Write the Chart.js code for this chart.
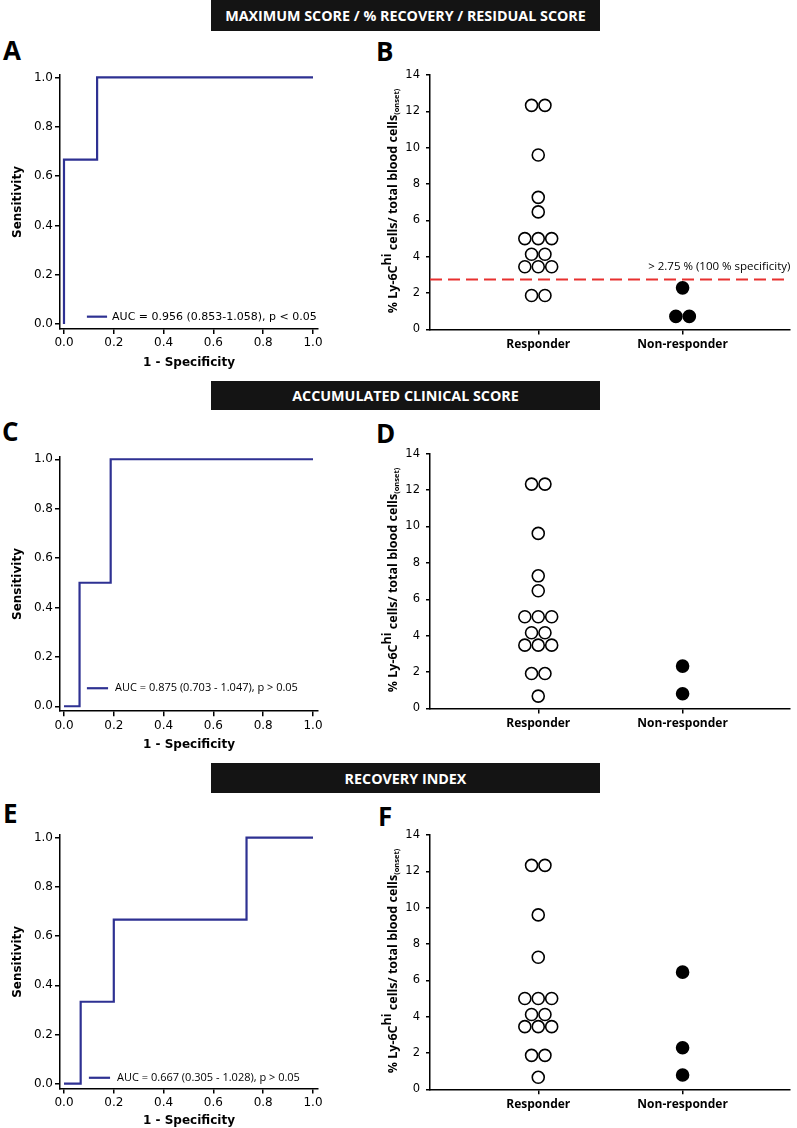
<!DOCTYPE html>
<html>
<head>
<meta charset="utf-8">
<script src="https://cdn.jsdelivr.net/npm/chart.js@4.4.1/dist/chart.umd.min.js"></script>
<style>
  body { margin: 0; background: #fff; }
  #page { position: relative; width: 797px; height: 1128px; overflow: hidden; background: #fff; }
  .bar { position: absolute; left: 211px; width: 389px; background: #141414; color: #fff;
         font: bold 14.3px "Open Sans"; display: flex; align-items: center; justify-content: center; }
  .letter { position: absolute; font: bold 26px/26px "Open Sans"; color: #000; }
  canvas { position: absolute; }
  .ytitle { position: absolute; white-space: nowrap; font: bold 12.5px "Open Sans"; color: #000;
            transform: translate(-50%, -50%) rotate(-90deg); }
  .ytitle sup { font-size: 1em; vertical-align: 0.45em; line-height: 0; }
  .ytitle sub { font-size: 0.6em; vertical-align: -0.3em; line-height: 0; }
</style>
</head>
<body>
<div id="page">
  <div class="bar" style="top:0;height:31px">MAXIMUM SCORE / % RECOVERY / RESIDUAL SCORE</div>
  <div class="bar" style="top:381px;height:29px">ACCUMULATED CLINICAL SCORE</div>
  <div class="bar" style="top:763px;height:30px">RECOVERY INDEX</div>

  <div class="letter" style="left:3px;top:37px">A</div>
  <div class="letter" style="left:376px;top:38px">B</div>
  <div class="letter" style="left:2px;top:418px">C</div>
  <div class="letter" style="left:376px;top:420px">D</div>
  <div class="letter" style="left:3px;top:800px">E</div>
  <div class="letter" style="left:378px;top:803px">F</div>

  <canvas id="chartA" width="330" height="360"></canvas>
  <canvas id="chartB" width="467" height="360"></canvas>
  <canvas id="chartC" width="330" height="360"></canvas>
  <canvas id="chartD" width="467" height="360"></canvas>
  <canvas id="chartE" width="330" height="360"></canvas>
  <canvas id="chartF" width="467" height="360"></canvas>
</div>
<script>
// ROC curves (1 - specificity, sensitivity)
const rocTicks = [0, 0.2, 0.4, 0.6, 0.8, 1.0];
const rocA_fpr = [0, 0, 0.133, 0.133, 1];
const rocA_tpr = [0, 0.667, 0.667, 1, 1];
const rocC_fpr = [0, 0.0625, 0.0625, 0.1875, 0.1875, 1];
const rocC_tpr = [0, 0, 0.5, 0.5, 1, 1];
const rocE_fpr = [0, 0.067, 0.067, 0.2, 0.2, 0.733, 0.733, 1];
const rocE_tpr = [0, 0, 0.333, 0.333, 0.667, 0.667, 1, 1];
const aucA = "AUC = 0.956 (0.853-1.058), p < 0.05";
const aucC = "AUC = 0.875 (0.703 - 1.047), p > 0.05";
const aucE = "AUC = 0.667 (0.305 - 1.028), p > 0.05";

// % Ly-6C hi cells at onset
const groups = ["Responder", "Non-responder"];
const scatterTicks = [0, 2, 4, 6, 8, 10, 12, 14];
const respB = [12.33, 12.33, 9.6, 7.27, 6.47, 5.0, 5.0, 5.0, 4.14, 4.14, 3.45, 3.45, 3.45, 1.87, 1.87];
const nonB = [2.29, 0.72, 0.72];
const respD = [12.33, 12.33, 9.62, 7.29, 6.47, 5.04, 5.04, 5.04, 4.16, 4.16, 3.48, 3.48, 3.48, 1.92, 1.92, 0.68];
const nonD = [2.33, 0.81];
const respF = [12.33, 12.33, 9.6, 7.27, 5.0, 5.0, 5.0, 4.12, 4.12, 3.45, 3.45, 3.45, 1.87, 1.87, 0.66];
const nonF = [6.45, 2.29, 0.79];
const cutoffB = 2.75;
const cutoffText = "> 2.75 % (100 % specificity)";

const rocColor = "#2e3192";
const H = 360;

Chart.defaults.font.family = "DejaVu Sans";
Chart.defaults.color = "#000";

const aucLabel = {
    id: "aucLabel",
    afterDatasetsDraw(chart, args, o) {
        if (!o || !o.text) return;
        const { ctx, scales: { x, y } } = chart;
        const py = y.getPixelForValue(o.y);
        const x1 = x.getPixelForValue(o.from);
        const x2 = x.getPixelForValue(o.to);
        ctx.save();
        ctx.strokeStyle = rocColor;
        ctx.lineWidth = 2.2;
        ctx.beginPath();
        ctx.moveTo(x1, py);
        ctx.lineTo(x2, py);
        ctx.stroke();
        ctx.font = o.fontSpec;
        ctx.letterSpacing = o.spacing;
        ctx.fillStyle = "#000";
        ctx.textBaseline = "middle";
        ctx.fillText(o.text, x2 + o.gap, py);
        ctx.restore();
    },
};

const cutoffLabel = {
    id: "cutoffLabel",
    afterDatasetsDraw(chart, args, o) {
        if (!o || !o.text) return;
        const { ctx, chartArea, scales: { y } } = chart;
        ctx.save();
        ctx.font = "11.5px 'Open Sans'";
        ctx.fillStyle = "#000";
        ctx.textAlign = "right";
        ctx.textBaseline = "middle";
        ctx.fillText(o.text, chartArea.right + 1, y.getPixelForValue(o.value) - 12.7);
        ctx.restore();
    },
};

function axisLines() {
    return {
        grid: { drawOnChartArea: false, tickLength: 5, color: "#000", lineWidth: 1.5 },
        border: { color: "#000", width: 1.5 },
    };
}

function rocChart(id, top, areaTop, areaBottom, xAxisH, fpr, tpr, label) {
    const canvas = document.getElementById(id);
    canvas.style.left = "0px";
    canvas.style.top = top + "px";
    new Chart(canvas, {
        type: "line",
        data: {
            datasets: [{
                data: fpr.map((x, i) => ({ x, y: tpr[i] })),
                borderColor: rocColor,
                borderWidth: 2.2,
                pointRadius: 0,
                tension: 0,
                fill: false,
            }],
        },
        options: {
            responsive: false,
            animation: false,
            devicePixelRatio: 1,
            layout: { padding: { top: areaTop - top, right: 12, bottom: H - (areaBottom - top) - xAxisH, left: 0 } },
            plugins: { legend: { display: false }, tooltip: { enabled: false }, aucLabel: label },
            scales: {
                x: {
                    type: "linear", min: -0.016, max: 1.02,
                    afterFit: (s) => { s.height = xAxisH; },
                    afterBuildTicks: (s) => { s.ticks = rocTicks.map((v) => ({ value: v })); },
                    ...axisLines(),
                    ticks: { font: { size: 12 }, padding: 2, maxRotation: 0, autoSkip: false, callback: (v) => v.toFixed(1) },
                    title: { display: true, text: "1 - Specificity", font: { size: 12, weight: "bold" }, padding: { top: 0, bottom: 1 } },
                },
                y: {
                    type: "linear", min: -0.02, max: 1.01,
                    afterFit: (s) => { s.width = 60; },
                    afterBuildTicks: (s) => { s.ticks = rocTicks.map((v) => ({ value: v })); },
                    ...axisLines(),
                    ticks: { font: { size: 12 }, padding: 2, callback: (v) => v.toFixed(1) },
                    title: { display: true, text: "Sensitivity", font: { size: 12, weight: "bold" }, padding: { top: 11, bottom: 0 } },
                },
            },
        },
        plugins: [aucLabel],
    });
}

function swarm(values, center, spacing) {
    const counts = {};
    values.forEach((v) => { counts[v] = (counts[v] || 0) + 1; });
    const seen = {};
    return values.map((v) => {
        seen[v] = seen[v] === undefined ? 0 : seen[v] + 1;
        return { x: center + (seen[v] - (counts[v] - 1) / 2) * spacing, y: v };
    });
}

function scatterChart(id, top, areaTop, areaBottom, resp, non, cutoff) {
    const xAxisH = 36;
    const canvas = document.getElementById(id);
    canvas.style.left = "330px";
    canvas.style.top = top + "px";

    const datasets = [
        { data: swarm(resp, 1, 0.093), pointRadius: 6, pointBorderWidth: 1.6,
          pointBackgroundColor: "#fff", pointBorderColor: "#000", showLine: false },
        { data: swarm(non, 2, 0.093), pointRadius: 6, pointBorderWidth: 1.6,
          pointBackgroundColor: "#000", pointBorderColor: "#000", showLine: false },
    ];
    if (cutoff !== undefined) {
        datasets.push({
            data: [{ x: 0.25, y: cutoff }, { x: 2.74, y: cutoff }],
            showLine: true, borderColor: "#e8302f", borderWidth: 2, borderDash: [12, 6], pointRadius: 0,
        });
    }

    new Chart(canvas, {
        type: "scatter",
        data: { datasets },
        options: {
            responsive: false,
            animation: false,
            devicePixelRatio: 1,
            layout: { padding: { top: areaTop - top, right: 3, bottom: H - (areaBottom - top) - xAxisH, left: 0 } },
            plugins: {
                legend: { display: false },
                tooltip: { enabled: false },
                cutoffLabel: cutoff !== undefined ? { text: cutoffText, value: cutoff } : {},
            },
            scales: {
                x: {
                    type: "linear", min: 0.25, max: 2.74,
                    afterFit: (s) => { s.height = xAxisH; },
                    afterBuildTicks: (s) => { s.ticks = [1, 2].map((v) => ({ value: v })); },
                    ...axisLines(),
                    ticks: { font: { family: "Open Sans", size: 12, weight: "bold" }, padding: 3, maxRotation: 0, autoSkip: false,
                             callback: (v) => groups[v - 1] },
                },
                y: {
                    type: "linear", min: 0, max: 14,
                    afterFit: (s) => { s.width = 100; },
                    afterBuildTicks: (s) => { s.ticks = scatterTicks.map((v) => ({ value: v })); },
                    ...axisLines(),
                    grid: { drawOnChartArea: false, tickLength: 4, color: "#000", lineWidth: 1.5 },
                    ticks: { font: { size: 11.5 }, padding: 6 },
                },
            },
        },
        plugins: [cutoffLabel],
    });

    const t = document.createElement("div");
    t.className = "ytitle";
    t.style.left = "392px";
    t.style.top = ((areaTop + areaBottom) / 2 - 1.5) + "px";
    t.innerHTML = "% Ly-6C<sup>hi</sup> cells/ total blood cells<sub>(onset)</sub>";
    document.getElementById("page").appendChild(t);
}

rocChart("chartA", 40, 75, 329, 42, rocA_fpr, rocA_tpr,
    { text: aucA, from: 0.092, to: 0.173, y: 0.03, gap: 5, fontSpec: "11px 'DejaVu Sans'", spacing: "0px" });
rocChart("chartC", 415, 456.8, 711.2, 42, rocC_fpr, rocC_tpr,
    { text: aucC, from: 0.092, to: 0.177, y: 0.073, gap: 7, fontSpec: "11px 'Open Sans'", spacing: "0px" });
rocChart("chartE", 795, 835.2, 1088.6, 40, rocE_fpr, rocE_tpr,
    { text: aucE, from: 0.1, to: 0.185, y: 0.024, gap: 7, fontSpec: "11px 'Open Sans'", spacing: "0px" });

scatterChart("chartB", 40, 75, 329.5, respB, nonB, cutoffB);
scatterChart("chartD", 415, 453.7, 708.5, respD, nonD);
scatterChart("chartF", 795, 835, 1089.3, respF, nonF);
</script>
</body>
</html>
